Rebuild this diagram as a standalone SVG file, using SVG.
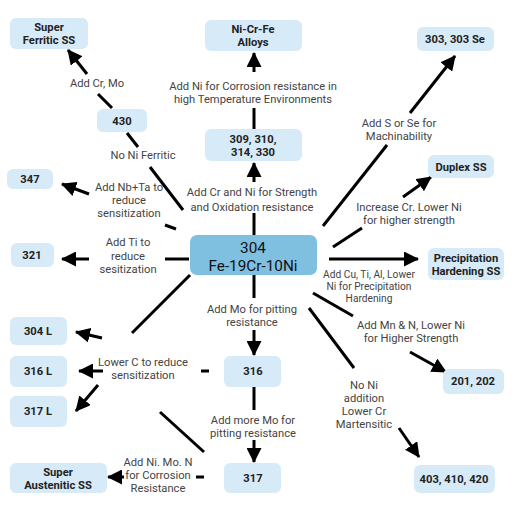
<svg xmlns="http://www.w3.org/2000/svg" width="512" height="512" viewBox="0 0 512 512">
<defs>
<marker id="ah" markerUnits="userSpaceOnUse" markerWidth="15" markerHeight="15" refX="14" refY="7.5" orient="auto">
<path d="M0,0 L15,7.5 L0,15 z" fill="#000"/>
</marker>
<style>
.n{fill:#d6eaf8}
.c{fill:#7fbfe0}
.t{font-family:Roboto,"Noto Sans",sans-serif;font-size:11.2px;font-weight:bold;fill:#222;text-anchor:middle}
.big{font-family:Roboto,"Noto Sans",sans-serif;font-size:15.3px;fill:#111;text-anchor:middle}
.l{font-family:Roboto,"Noto Sans",sans-serif;font-size:11.2px;fill:#444;text-anchor:middle}
.s{font-size:10.2px}
#conn line{stroke:#000;stroke-width:3}
.a{marker-end:url(#ah)}
</style>
</defs>
<rect width="512" height="512" fill="#fff"/>
<g id="conn">
<line x1="183" y1="210" x2="150" y2="167"/>
<line x1="138" y1="147" x2="127" y2="133"/>
<line x1="112" y1="108" x2="98" y2="94"/>
<line class="a" x1="87" y1="74" x2="68" y2="50"/>
<line x1="254" y1="235" x2="254" y2="213"/>
<line class="a" x1="254" y1="182" x2="254" y2="163"/>
<line x1="254" y1="129" x2="254" y2="108"/>
<line class="a" x1="254" y1="72" x2="254" y2="53"/>
<line x1="323" y1="226" x2="387" y2="145"/>
<line class="a" x1="410" y1="113" x2="455" y2="56"/>
<line x1="333" y1="247" x2="362" y2="228"/>
<line class="a" x1="403" y1="197" x2="431" y2="177"/>
<line class="a" x1="329" y1="259" x2="418" y2="259"/>
<line x1="313" y1="293" x2="353" y2="316"/>
<line class="a" x1="410" y1="352" x2="446" y2="372"/>
<line x1="309" y1="308" x2="354" y2="368"/>
<line class="a" x1="399" y1="428" x2="419" y2="457"/>
<line x1="254" y1="275" x2="254" y2="298"/>
<line class="a" x1="254" y1="330" x2="254" y2="355"/>
<line x1="254" y1="387" x2="254" y2="410"/>
<line class="a" x1="254" y1="440" x2="254" y2="462"/>
<line x1="209" y1="371" x2="201" y2="371"/>
<line x1="190" y1="275" x2="132" y2="333"/>
<line x1="204" y1="452" x2="160" y2="412"/>
<line class="a" x1="103" y1="371" x2="79" y2="371"/>
<line class="a" x1="102" y1="338" x2="76" y2="332"/>
<line class="a" x1="98" y1="385" x2="76" y2="411"/>
<line x1="204" y1="477" x2="196" y2="477"/>
<line class="a" x1="124" y1="477" x2="108" y2="477"/>
<line x1="176" y1="229" x2="165" y2="225"/>
<line class="a" x1="89" y1="194" x2="62" y2="184"/>
<line x1="189" y1="259" x2="165" y2="259"/>
<line class="a" x1="89" y1="259" x2="62" y2="259"/>
</g>
<g id="labels">
<text class="l" x="97" y="87">Add Cr, Mo</text>
<text class="l" x="143" y="159">No Ni Ferritic</text>
<text class="l" x="253" y="89.5">Add Ni for Corrosion resistance in</text>
<text class="l" x="253" y="103">high Temperature Environments</text>
<text class="l" x="252" y="196">Add Cr and Ni for Strength</text>
<text class="l" x="252" y="211">and Oxidation resistance</text>
<text class="l" x="399" y="127">Add S or Se for</text>
<text class="l" x="399" y="140">Machinability</text>
<text class="l" x="409" y="211">Increase Cr. Lower Ni</text>
<text class="l" x="409" y="224">for higher strength</text>
<text class="l s" x="369" y="277.5">Add Cu, Ti, Al, Lower</text>
<text class="l s" x="369" y="289.5">Ni for Precipitation</text>
<text class="l s" x="369" y="301.5">Hardening</text>
<text class="l" x="411" y="328.5">Add Mn &amp; N, Lower Ni</text>
<text class="l" x="411" y="341.5">for Higher Strength</text>
<text class="l" x="364" y="389">No Ni</text>
<text class="l" x="364" y="402">addition</text>
<text class="l" x="364" y="415">Lower Cr</text>
<text class="l" x="364" y="428">Martensitic</text>
<text class="l" x="252" y="312.5">Add Mo for pitting</text>
<text class="l" x="252" y="325.5">resistance</text>
<text class="l" x="253" y="423.5">Add more Mo for</text>
<text class="l" x="253" y="436.5">pitting resistance</text>
<text class="l" x="143" y="365.5">Lower C to reduce</text>
<text class="l" x="143" y="378.5">sensitization</text>
<text class="l" x="158" y="466">Add Ni. Mo. N</text>
<text class="l" x="158" y="479">for Corrosion</text>
<text class="l" x="158" y="492">Resistance</text>
<text class="l" x="129" y="190.5">Add Nb+Ta to</text>
<text class="l" x="129" y="203.5">reduce</text>
<text class="l" x="129" y="216.5">sensitization</text>
<text class="l" x="128" y="246">Add Ti to</text>
<text class="l" x="128" y="260">reduce</text>
<text class="l" x="128" y="273">sesitization</text>
</g>
<g id="n304"><rect class="c" x="190" y="235" width="127" height="40" rx="7"/><text class="big" x="253" y="253">304</text><text class="big" x="253" y="271">Fe-19Cr-10Ni</text></g>
<g id="nSF"><rect class="n" x="10" y="18" width="78" height="31" rx="6"/><text class="t" x="49" y="31">Super</text><text class="t" x="49" y="44">Ferritic SS</text></g>
<g id="nNCF"><rect class="n" x="205" y="20" width="97" height="31" rx="6"/><text class="t" x="253" y="33">Ni-Cr-Fe</text><text class="t" x="253" y="46">Alloys</text></g>
<g id="n303"><rect class="n" x="417" y="27" width="77" height="24" rx="6"/><text class="t" x="455" y="43">303, 303 Se</text></g>
<g id="n430"><rect class="n" x="97" y="109" width="50" height="23" rx="6"/><text class="t" x="122" y="125">430</text></g>
<g id="n309"><rect class="n" x="205" y="129" width="97" height="32" rx="6"/><text class="t" x="253" y="143">309, 310,</text><text class="t" x="253" y="156">314, 330</text></g>
<g id="n347"><rect class="n" x="7" y="169" width="46" height="20" rx="6"/><text class="t" x="30" y="183">347</text></g>
<g id="nDup"><rect class="n" x="428" y="155" width="66" height="23" rx="6"/><text class="t" x="461" y="171">Duplex SS</text></g>
<g id="n321"><rect class="n" x="11" y="243" width="43" height="24" rx="6"/><text class="t" x="32" y="259">321</text></g>
<g id="nPH"><rect class="n" x="428" y="248" width="76" height="32" rx="6"/><text class="t" x="466" y="262">Precipitation</text><text class="t" x="466" y="275">Hardening SS</text></g>
<g id="n304L"><rect class="n" x="10" y="317" width="57" height="28" rx="6"/><text class="t" x="38" y="335">304 L</text></g>
<g id="n316L"><rect class="n" x="10" y="356" width="57" height="31" rx="6"/><text class="t" x="38" y="375">316 L</text></g>
<g id="n317L"><rect class="n" x="10" y="396" width="57" height="31" rx="6"/><text class="t" x="38" y="415">317 L</text></g>
<g id="nSA"><rect class="n" x="10" y="463" width="97" height="30" rx="6"/><text class="t" x="58" y="476">Super</text><text class="t" x="58" y="489">Austenitic SS</text></g>
<g id="n316"><rect class="n" x="224" y="356" width="57" height="31" rx="6"/><text class="t" x="253" y="375">316</text></g>
<g id="n317"><rect class="n" x="224" y="463" width="57" height="30" rx="6"/><text class="t" x="253" y="482">317</text></g>
<g id="n201"><rect class="n" x="443" y="369" width="61" height="25" rx="6"/><text class="t" x="473" y="385">201, 202</text></g>
<g id="n403"><rect class="n" x="414" y="465" width="81" height="28" rx="6"/><text class="t" x="454" y="483">403, 410, 420</text></g>
</svg>
